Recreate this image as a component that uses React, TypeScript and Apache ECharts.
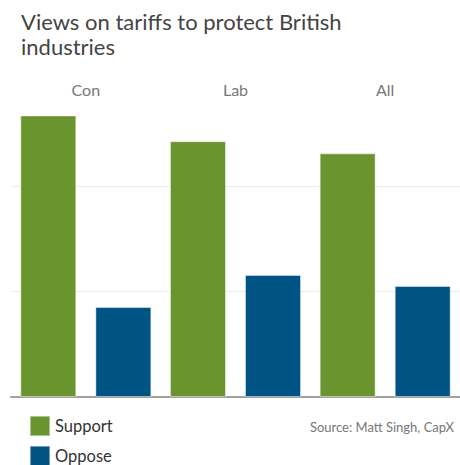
import React, { useEffect, useRef } from "react";
import * as echarts from "echarts";

const categories = ["Con", "Lab", "All"];
const supportValues = [53.5, 48.6, 46.3];
const opposeValues = [17.1, 23.2, 21.1];
const seriesNames = ["Support", "Oppose"];
const titleText = "Views on tariffs to protect British\nindustries";
const sourceText = "Source: Matt Singh, CapX";

const FONT = "Lato, 'Open Sans', sans-serif";

export default function App() {
  const ref = useRef<HTMLDivElement>(null);
  useEffect(() => {
    if (!ref.current) return;
    const chart = echarts.init(ref.current, null, { renderer: "svg" });
    chart.setOption({
      animation: false,
      backgroundColor: "#ffffff",
      textStyle: { fontFamily: FONT },
      title: {
        text: titleText,
        left: 16,
        top: 4,
        textStyle: {
          fontFamily: FONT,
          fontSize: 22,
          fontWeight: "normal",
          color: "#444444",
          lineHeight: 25,
        },
      },
      legend: {
        data: seriesNames,
        orient: "vertical",
        left: 29,
        top: 415,
        height: 60,
        padding: 0,
        itemWidth: 20,
        itemHeight: 20,
        itemGap: 8,
        icon: "rect",
        textStyle: { fontFamily: FONT, fontSize: 16.5, color: "#333333" },
      },
      graphic: [
        {
          type: "text",
          right: 6,
          top: 420,
          style: {
            text: sourceText,
            fontFamily: FONT,
            fontSize: 13,
            fill: "#777777",
          },
        },
      ],
      grid: { left: 11, right: 0, top: 97, bottom: 68, containLabel: false },
      xAxis: [
        {
          type: "category",
          data: categories,
          position: "top",
          axisLine: { show: false },
          axisTick: { show: false },
          axisLabel: {
            margin: 0,
            fontFamily: FONT,
            fontSize: 16,
            color: "#777777",
          },
        },
        {
          type: "category",
          data: categories,
          position: "bottom",
          axisLine: {
            show: true,
            lineStyle: { color: "#a0a0a0", width: 2, type: [2, 1] },
          },
          axisTick: { show: false },
          axisLabel: { show: false },
        },
      ],
      yAxis: {
        type: "value",
        min: 0,
        max: 57,
        interval: 20,
        axisLabel: { show: false },
        axisLine: { show: false },
        axisTick: { show: false },
        splitLine: {
          show: true,
          showMinLine: false,
          showMaxLine: false,
          lineStyle: { color: "#ebebeb", width: 1 },
        },
      },
      series: [
        {
          name: seriesNames[0],
          type: "bar",
          data: supportValues,
          barWidth: 56,
          barGap: "34%",
          itemStyle: {
            color: "#6a942e",
            borderColor: "rgba(255,255,255,0.45)",
            borderWidth: 1,
          },
        },
        {
          name: seriesNames[1],
          type: "bar",
          data: opposeValues,
          barWidth: 56,
          barGap: "34%",
          itemStyle: {
            color: "#005483",
            borderColor: "rgba(255,255,255,0.45)",
            borderWidth: 1,
          },
        },
      ],
    });
    return () => chart.dispose();
  }, []);
  return (
    <div
      ref={ref}
      style={{ position: "fixed", left: 0, top: 0, width: 460, height: 465 }}
    />
  );
}
